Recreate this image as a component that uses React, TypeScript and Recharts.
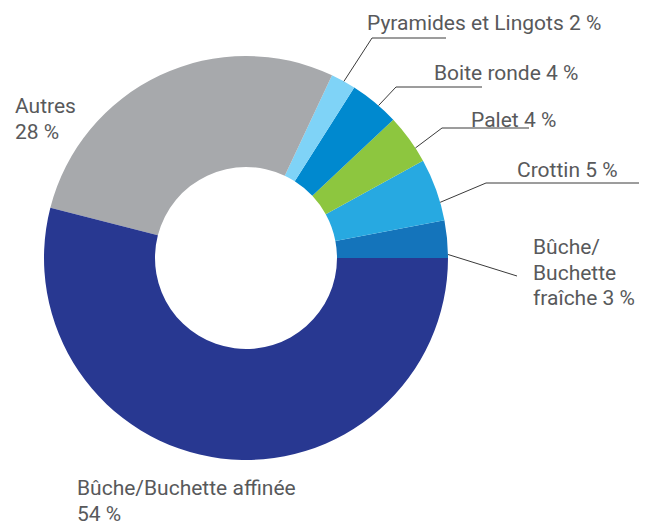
import React from 'react';
import { PieChart, Pie, Cell } from 'recharts';

// parts of the market, counter-clockwise from 3 o'clock
const categories = [
  'Bûche/Buchette fraîche',
  'Crottin',
  'Palet',
  'Boite ronde',
  'Pyramides et Lingots',
  'Autres',
  'Bûche/Buchette affinée',
];
const shares = [3, 5, 4, 4, 2, 28, 54];
const labelLines = [
  ['Bûche/', 'Buchette', 'fraîche 3 %'],
  ['Crottin 5 %'],
  ['Palet 4 %'],
  ['Boite ronde 4 %'],
  ['Pyramides et Lingots 2 %'],
  ['Autres', '28 %'],
  ['Bûche/Buchette affinée', '54 %'],
];

const colors = ['#1474bb', '#27a9e1', '#8dc63f', '#0089cf', '#7fd3f7', '#a7a9ac', '#283891'];

// label placement, relative to the pie centre
type LabelPos = { angle?: number; elbow?: [number, number]; endX?: number; text: [number, number] };
const labelPos: LabelPos[] = [
  { angle: 1, elbow: [271, 18], text: [287, -4] },
  { angle: 16, elbow: [240, -75], endX: 393, text: [271, -81] },
  { angle: 33, elbow: [196, -130], endX: 283, text: [225, -131] },
  { angle: 49, elbow: [150, -171], endX: 236, text: [188, -178] },
  { angle: 61, elbow: [126, -220], endX: 200, text: [121, -228] },
  { text: [-231, -145] },
  { text: [-169, 237] },
];

const data = categories.map((name, i) => ({ name, value: shares[i] }));

const RAD = Math.PI / 180;
const textColor = '#58595b';
const fontSize = 21;
const lineGap = 25.5;

const renderLabel = (props: any) => {
  const { cx, cy, outerRadius, index } = props;
  const pos = labelPos[index];
  const lines = labelLines[index];
  let path = '';
  if (pos.angle !== undefined && pos.elbow) {
    const sx = cx + outerRadius * Math.cos(pos.angle * RAD);
    const sy = cy - outerRadius * Math.sin(pos.angle * RAD);
    path = `M${sx},${sy} L${cx + pos.elbow[0]},${cy + pos.elbow[1]}`;
    if (pos.endX !== undefined) path += ` L${cx + pos.endX},${cy + pos.elbow[1]}`;
  }
  return (
    <g key={`lbl-${index}`}>
      {path && <path d={path} stroke="#3a3a3a" strokeWidth={1} fill="none" />}
      <text
        x={cx + pos.text[0]}
        y={cy + pos.text[1]}
        fill={textColor}
        fontSize={fontSize}
        fontFamily="Roboto, sans-serif"
        textAnchor="start"
      >
        {lines.map((l, i) => (
          <tspan key={i} x={cx + pos.text[0]} dy={i === 0 ? 0 : lineGap}>
            {l}
          </tspan>
        ))}
      </text>
    </g>
  );
};

export default function App() {
  return (
    <div style={{ position: 'absolute', left: 0, top: 0, background: '#fff' }}>
      <PieChart width={653} height={525} margin={{ top: 0, right: 0, bottom: 0, left: 0 }}>
        <Pie
          data={data}
          dataKey="value"
          nameKey="name"
          cx={246}
          cy={258}
          innerRadius={91}
          outerRadius={202}
          startAngle={0}
          endAngle={360}
          stroke="none"
          label={renderLabel}
          labelLine={false}
          isAnimationActive={false}
        >
          {data.map((d, i) => (
            <Cell key={d.name} fill={colors[i]} />
          ))}
        </Pie>
      </PieChart>
    </div>
  );
}
